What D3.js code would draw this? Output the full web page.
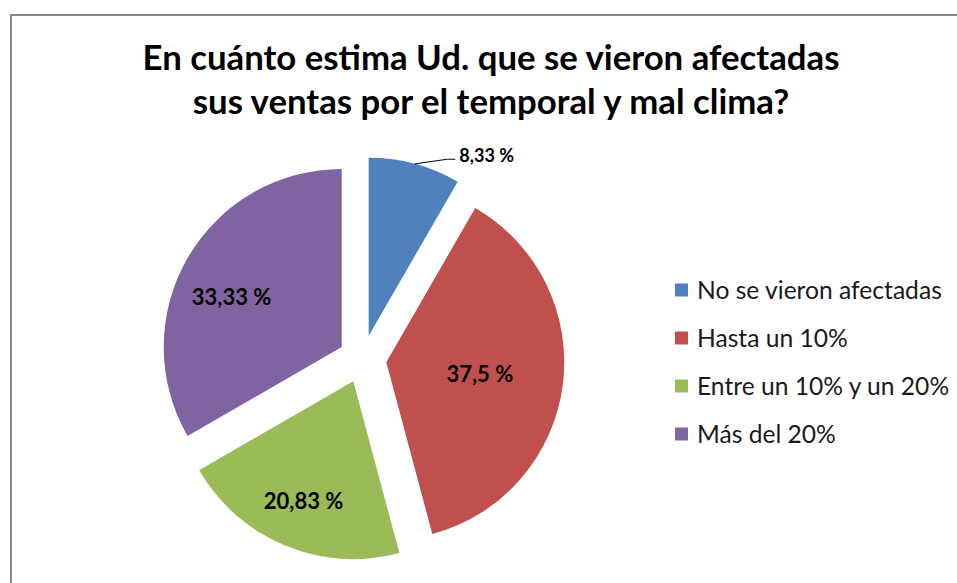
<!DOCTYPE html>
<html>
<head>
<meta charset="utf-8">
<script src="https://cdn.jsdelivr.net/npm/d3@7"></script>
<style>
  body { margin: 0; background: #fff; }
  svg { display: block; }
</style>
</head>
<body>
<svg id="chart"></svg>
<script>
const categories = ["No se vieron afectadas", "Hasta un 10%", "Entre un 10% y un 20%", "Más del 20%"];
const values = [8.33, 37.5, 20.83, 33.33];
const valueLabels = ["8,33 %", "37,5 %", "20,83 %", "33,33 %"];
const colors = ["#4F81BD", "#C0504D", "#9BBB59", "#8064A2"];
const titleLines = ["En cuánto estima Ud. que se vieron afectadas", "sus ventas por el temporal y mal clima?"];

const width = 957, height = 583;
const cx = 362.5, cy = 359;
const radius = 178;
const explode = 24;
// where the inside labels sit: fraction of the radius from the slice tip, and a small turn in degrees
const labelFrac = [null, 0.53, 0.73, 0.68];
const labelTurn = [0, 0, 0, -5.5];

const font = "Lato, 'Open Sans', sans-serif";

const svg = d3.select("svg#chart")
    .attr("width", width)
    .attr("height", height);

// chart frame
svg.append("rect")
    .attr("x", 11)
    .attr("y", 15)
    .attr("width", width)
    .attr("height", height)
    .attr("fill", "#fff")
    .attr("stroke", "#888")
    .attr("stroke-width", 2);

// fit a text element to a target width by changing its font size
function fitWidth(sel, target) {
  const w = sel.node().getComputedTextLength();
  const fs = parseFloat(sel.attr("font-size"));
  sel.attr("font-size", fs * target / w);
}

const title = svg.append("g")
    .attr("font-family", font)
    .attr("font-weight", "bold")
    .attr("text-anchor", "middle")
    .attr("fill", "#000");

const t1 = title.append("text").attr("x", 491).attr("y", 70).attr("font-size", 28).text(titleLines[0]);
const t2 = title.append("text").attr("x", 491).attr("y", 114).attr("font-size", 28).text(titleLines[1]);
fitWidth(t1, 697);
t2.attr("font-size", t1.attr("font-size"));

const pie = d3.pie().sort(null).value(d => d);
const arcs = pie(values);

const arc = d3.arc().innerRadius(0).outerRadius(radius);

const pieG = svg.append("g").attr("transform", `translate(${cx},${cy})`);

function offset(d, dist, turn = 0) {
  const a = (d.startAngle + d.endAngle) / 2 + turn * Math.PI / 180;
  return [Math.sin(a) * dist, -Math.cos(a) * dist];
}

const slices = pieG.selectAll("g.slice")
    .data(arcs)
    .join("g")
    .attr("class", "slice")
    .attr("transform", d => {
      const [x, y] = offset(d, explode);
      return `translate(${x},${y})`;
    });

slices.append("path")
    .attr("d", arc)
    .attr("fill", d => colors[d.index]);

// inside labels
slices.filter(d => labelFrac[d.index] !== null)
  .append("text")
    .attr("transform", d => {
      const [x, y] = offset(d, radius * labelFrac[d.index], labelTurn[d.index]);
      return `translate(${x},${y})`;
    })
    .attr("text-anchor", "middle")
    .attr("dy", "0.35em")
    .attr("font-family", font)
    .attr("font-weight", "bold")
    .attr("font-size", 22)
    .attr("fill", "#000")
    .text(d => valueLabels[d.index]);

// outside label with leader line for the small slice
slices.filter(d => labelFrac[d.index] === null).each(function(d) {
  const g = d3.select(this);
  const [x0, y0] = offset(d, radius);
  const [x1, y1] = offset(d, radius + 10);
  g.append("path")
      .attr("d", `M${x0},${y0}L${x1 + 30},${y1 + 5}L${x1 + 38},${y1 + 5}`)
      .attr("fill", "none")
      .attr("stroke", "#000")
      .attr("stroke-width", 1);
  g.append("text")
      .attr("x", x1 + 42)
      .attr("y", y1 + 5)
      .attr("dy", "0.15em")
      .attr("font-family", font)
      .attr("font-weight", "bold")
      .attr("font-size", 18)
      .attr("fill", "#000")
      .text(valueLabels[d.index]);
});

// legend
const legend = svg.append("g")
    .attr("transform", "translate(675,290)");

const rows = legend.selectAll("g")
    .data(categories)
    .join("g")
    .attr("transform", (d, i) => `translate(0,${i * 48})`);

rows.append("rect")
    .attr("x", 0)
    .attr("y", -6.5)
    .attr("width", 13)
    .attr("height", 13)
    .attr("fill", (d, i) => colors[i]);

rows.append("text")
    .attr("x", 22)
    .attr("dy", "0.35em")
    .attr("font-family", font)
    .attr("font-size", 20)
    .attr("fill", "#1a1a1a")
    .text(d => d);

fitWidth(rows.select("text").filter((d, i) => i === 0), 245);
rows.selectAll("text").attr("font-size", legend.select("text").attr("font-size"));
</script>
</body>
</html>
